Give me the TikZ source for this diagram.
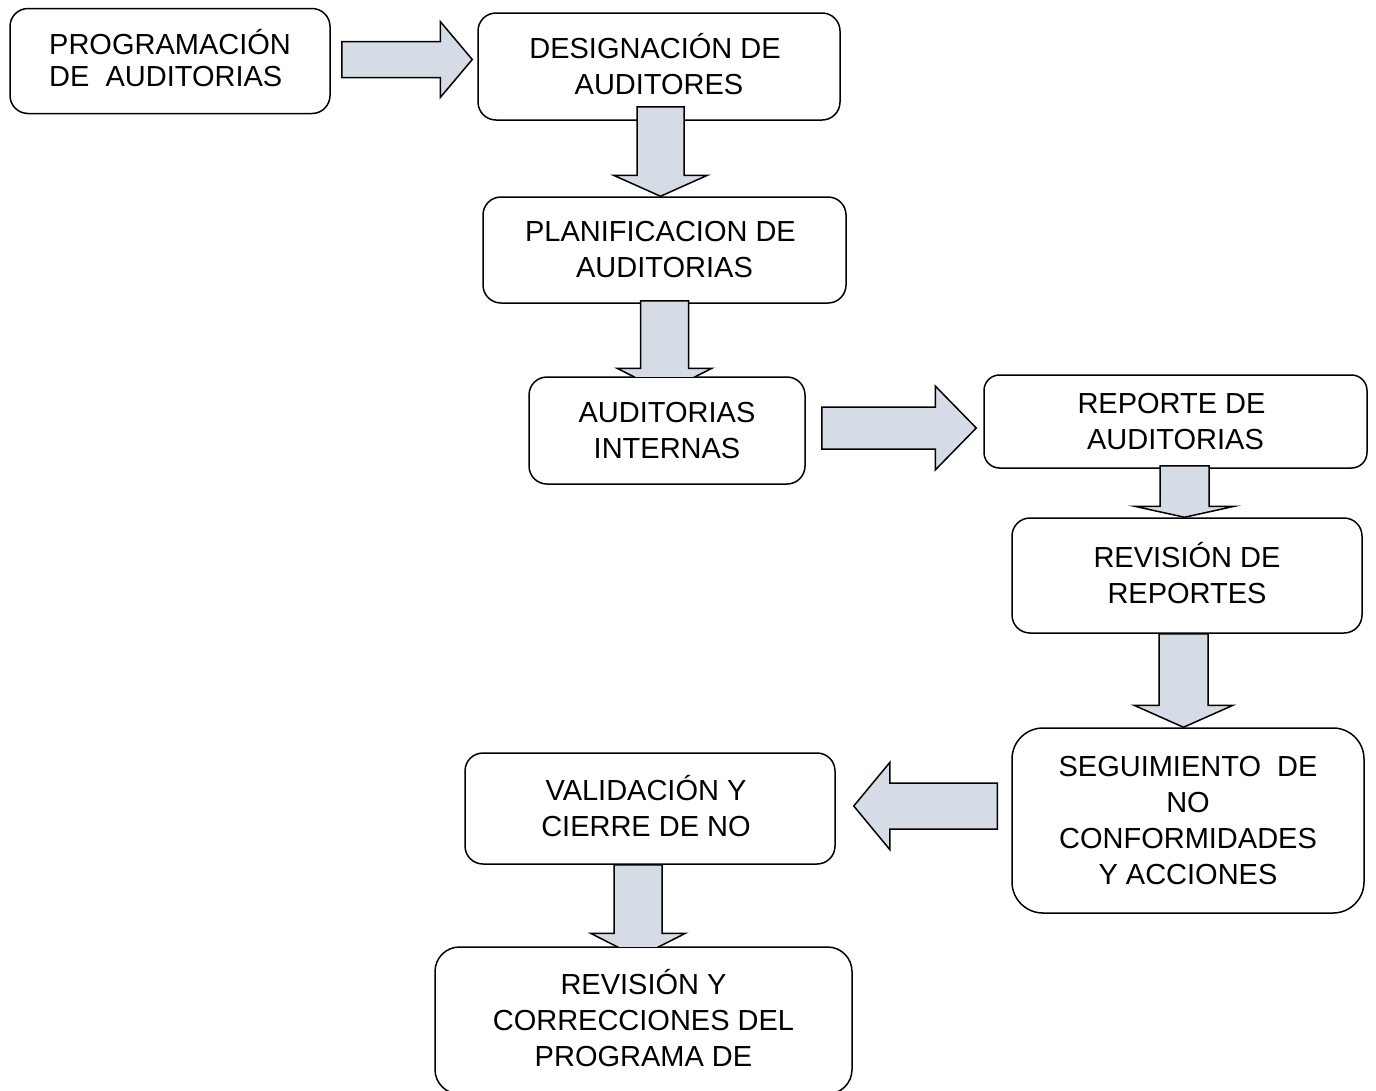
\documentclass[tikz,border=0pt]{standalone}
\usepackage{fontspec}
\setmainfont{Liberation Sans}
\usetikzlibrary{calc}

\definecolor{arrowfill}{RGB}{214,220,229}

\tikzset{
  box/.style={draw, line width=1.5pt, fill=white, rounded corners=18pt,
    align=center, inner sep=0pt, font=\fontsize{29}{36}\selectfont},
  blk/.style={draw, line width=1.5pt, fill=arrowfill, line join=miter},
}

% block arrows: #1 tail, #2 tip, #3 half shaft, #4 half head, #5 head length
\newcommand{\blkdown}[5]{%
  \draw[blk] let \p1=(#1), \p2=(#2) in
    (\x1-#3pt,\y1) -- (\x1+#3pt,\y1) -- (\x1+#3pt,\y2-#5pt) -- (\x1+#4pt,\y2-#5pt)
    -- (\x1,\y2) -- (\x1-#4pt,\y2-#5pt) -- (\x1-#3pt,\y2-#5pt) -- cycle;}
\newcommand{\blkright}[5]{%
  \draw[blk] let \p1=(#1), \p2=(#2) in
    (\x1,\y1+#3pt) -- (\x2-#5pt,\y1+#3pt) -- (\x2-#5pt,\y1+#4pt) -- (\x2,\y1)
    -- (\x2-#5pt,\y1-#4pt) -- (\x2-#5pt,\y1-#3pt) -- (\x1,\y1-#3pt) -- cycle;}
\newcommand{\blkleft}[5]{%
  \draw[blk] let \p1=(#1), \p2=(#2) in
    (\x1,\y1+#3pt) -- (\x2+#5pt,\y1+#3pt) -- (\x2+#5pt,\y1+#4pt) -- (\x2,\y1)
    -- (\x2+#5pt,\y1-#4pt) -- (\x2+#5pt,\y1-#3pt) -- (\x1,\y1-#3pt) -- cycle;}
% trailing blank of a line
\newcommand{\tspace}{\hspace*{8pt}}

\begin{document}
\begin{tikzpicture}[x=1pt,y=1pt,yscale=-1,xscale=1]
        \useasboundingbox (0,0) rectangle (1376,1090);
        \clip (0,0) rectangle (1376,1090);
        \coordinate (br) at (1376,1090);

        %Shape: Rounded Rect [prog]
        \node[box, align=left, font=\fontsize{29}{32}\selectfont, minimum width=320pt, minimum height=105pt] (prog) at (170,61) {PROGRAMACI\smash{Ó}N\\DE\ \ AUDITORIAS};
        %Shape: Rounded Rect [desig]
        \node[box, minimum width=362pt, minimum height=107pt] (desig) at (659,66.5) {DESIGNACI\smash{Ó}N DE\tspace\\AUDITORES};
        %Shape: Rounded Rect [plan]
        \node[box, minimum width=363pt, minimum height=106pt] (plan) at (664.5,250) {PLANIFICACION DE\tspace\\AUDITORIAS};
        %Shape: Rounded Rect [audint]
        \node[box, minimum width=276pt, minimum height=107pt] (audint) at (667,430.5) {AUDITORIAS\\INTERNAS};
        %Shape: Rounded Rect [reporte]
        \node[box, rounded corners=15.5pt, minimum width=383pt, minimum height=93pt] (reporte) at (1175.5,421.5) {REPORTE DE\tspace\\AUDITORIAS};
        %Shape: Rounded Rect [revrep]
        \node[box, minimum width=350pt, minimum height=115pt] (revrep) at (1187,575.5) {REVISI\smash{Ó}N DE\\REPORTES};
        %Shape: Rounded Rect [seguim]
        \node[box, rounded corners=31pt, minimum width=352pt, minimum height=185pt] (seguim) at (1188,820.5) {SEGUIMIENTO\ \ DE\\NO\\CONFORMIDADES\\Y ACCIONES};
        %Shape: Rounded Rect [valid]
        \node[box, minimum width=370pt, minimum height=111pt] (valid) at (650,808.5) {VALIDACI\smash{Ó}N Y\tspace\\CIERRE DE NO\tspace};
        %Shape: Rounded Rect [revcorr]
        \node[box, rounded corners=24.5pt, minimum width=417pt, minimum height=147pt] (revcorr) at (643.5,1020.5) {REVISI\smash{Ó}N Y\\CORRECCIONES DEL\\PROGRAMA DE};

        %Shape: Right Arrow
        \blkright{[xshift=11pt,yshift=-1.5pt]prog.east}{[xshift=-5pt]desig.west}{18}{38}{32}
        %Shape: Down Arrow
        \blkdown{[xshift=1.5pt,yshift=-14pt]desig.south}{plan.north}{23.5}{47}{21}
        %Shape: Down Arrow (tip under audint)
        \begin{scope}
          \clip (0,0) rectangle (br |- audint.north);
          \blkdown{[yshift=-3pt]plan.south}{[yshift=16pt]audint.north}{24}{47.5}{24}
        \end{scope}
        %Shape: Right Arrow
        \blkright{[xshift=16pt,yshift=-2.5pt]audint.east}{[xshift=-7pt]reporte.west}{21}{42}{41}
        %Shape: Down Arrow
        \blkdown{[xshift=9pt,yshift=-3pt]reporte.south}{revrep.north}{24.5}{50}{11}
        %Shape: Down Arrow
        \blkdown{[xshift=-3.5pt]revrep.south}{seguim.north}{24.5}{49.5}{22}
        %Shape: Left Arrow
        \blkleft{[xshift=-14pt,yshift=-14.5pt]seguim.west}{[xshift=18pt]valid.east}{23}{43.5}{36}
        %Shape: Down Arrow (tip under revcorr)
        \begin{scope}
          \clip (0,0) rectangle (br |- revcorr.north);
          \blkdown{[xshift=-12pt]valid.south}{[yshift=11pt]revcorr.north}{24}{47.5}{24}
        \end{scope}
\end{tikzpicture}
\end{document}
